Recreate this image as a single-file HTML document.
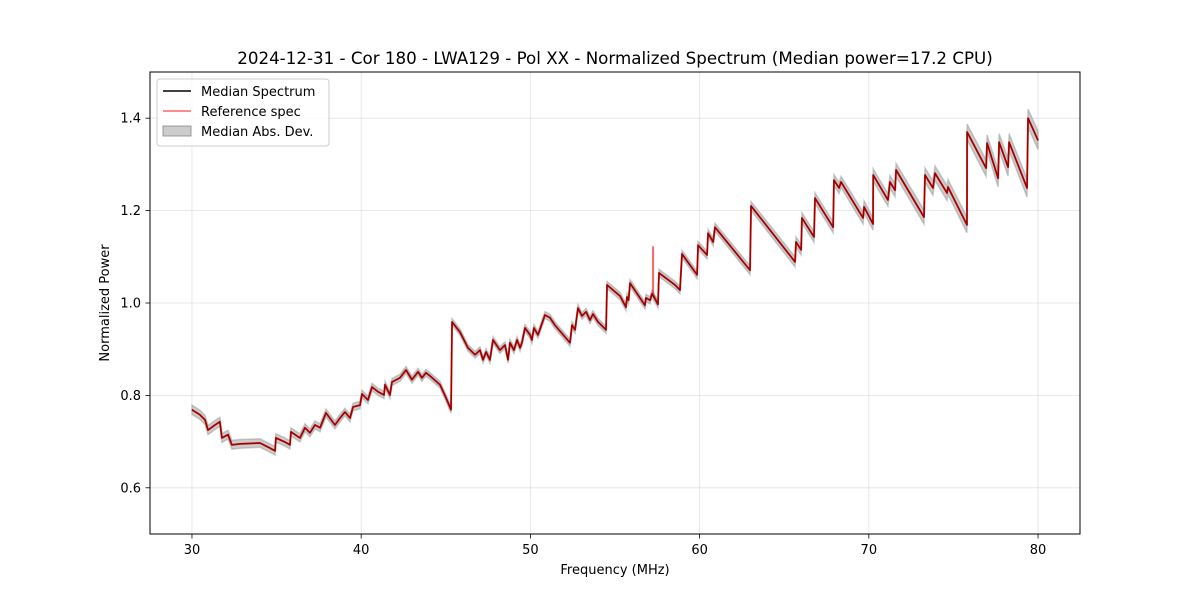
<!DOCTYPE html>
<html><head><meta charset="utf-8"><style>
body{margin:0;background:#fff}
svg text{font-family:"DejaVu Sans","Liberation Sans",sans-serif;fill:#000}
</style></head><body>
<svg id="chart" width="1200" height="600" xmlns="http://www.w3.org/2000/svg">
<rect width="1200" height="600" fill="#fff"/>
<text x="615" y="64" font-size="16.7" text-anchor="middle">2024-12-31 - Cor 180 - LWA129 - Pol XX - Normalized Spectrum (Median power=17.2 CPU)</text>
<g id="grid"></g>
<g id="band"></g>
<g id="lines"></g>
<rect x="150" y="72" width="930" height="462" fill="none" stroke="#000" stroke-width="1"/>
<g id="xticks"></g>
<g id="yticks"></g>
<text x="615" y="574" font-size="13" text-anchor="middle">Frequency (MHz)</text>
<text x="0" y="0" font-size="13" text-anchor="middle" transform="translate(109,303) rotate(-90)">Normalized Power</text>
<g>
<rect x="157" y="79" width="172" height="67" rx="3" fill="#fff" fill-opacity="0.8" stroke="#ccc"/>
<g><line x1="163" y1="91" x2="191" y2="91" stroke="#000" stroke-width="1.5"/><text x="201" y="96" font-size="13">Median Spectrum</text></g>
<g><line x1="163" y1="111" x2="191" y2="111" stroke="#f00" stroke-opacity="0.6" stroke-width="1.5"/><text x="201" y="116" font-size="13">Reference spec</text></g>
<g><rect x="163" y="126" width="28" height="10" fill="#999" fill-opacity="0.5" stroke="#888" stroke-width="0.8"/><text x="201" y="136" font-size="13">Median Abs. Dev.</text></g>
</g>
</svg>
<script>
const medianFreq=[30.0,30.47,30.77,30.95,31.36,31.65,31.77,32.13,32.36,32.84,34.02,34.61,34.91,34.96,35.50,35.79,35.85,36.38,36.68,36.97,37.27,37.57,37.92,38.45,38.75,39.04,39.34,39.52,39.93,40.05,40.40,40.64,40.99,41.35,41.41,41.70,41.82,42.29,42.65,43.00,43.36,43.59,43.83,44.07,44.66,45.01,45.31,45.37,45.84,46.31,46.73,47.02,47.20,47.38,47.61,47.79,48.20,48.50,48.68,48.79,49.03,49.21,49.39,49.50,49.68,49.98,50.09,50.21,50.45,50.86,51.16,51.45,52.34,52.46,52.64,52.81,53.05,53.29,53.52,53.70,54.0,54.47,54.53,55.3,55.65,55.71,55.80,55.89,56.77,56.83,57.07,57.19,57.54,57.60,58.55,58.84,58.96,59.85,59.91,60.44,60.50,60.80,60.91,62.98,63.04,65.64,65.70,66.0,66.05,66.76,66.82,67.89,67.94,68.24,68.36,69.66,69.72,70.25,70.26,71.13,71.25,71.55,71.61,73.26,73.32,73.79,73.91,74.62,74.68,75.80,75.81,76.93,76.99,77.64,77.70,78.23,78.29,79.35,79.41,80.0];
const medianVal=[0.769,0.758,0.747,0.725,0.736,0.743,0.708,0.715,0.693,0.695,0.697,0.686,0.680,0.708,0.699,0.693,0.721,0.708,0.730,0.719,0.736,0.730,0.762,0.736,0.751,0.764,0.751,0.775,0.779,0.803,0.790,0.818,0.808,0.801,0.823,0.801,0.829,0.838,0.855,0.834,0.851,0.838,0.849,0.842,0.823,0.795,0.769,0.959,0.937,0.903,0.888,0.898,0.877,0.894,0.877,0.920,0.898,0.909,0.877,0.914,0.898,0.920,0.903,0.914,0.946,0.931,0.920,0.946,0.931,0.974,0.968,0.952,0.914,0.952,0.942,0.989,0.972,0.981,0.963,0.976,0.959,0.942,1.039,1.015,0.991,1.013,1.006,1.043,0.995,1.011,1.006,1.020,0.997,1.065,1.039,1.028,1.106,1.061,1.125,1.104,1.151,1.132,1.164,1.071,1.210,1.089,1.132,1.115,1.184,1.143,1.227,1.164,1.266,1.249,1.262,1.184,1.208,1.171,1.277,1.223,1.262,1.244,1.288,1.186,1.277,1.249,1.281,1.238,1.251,1.169,1.370,1.292,1.346,1.270,1.348,1.294,1.348,1.249,1.400,1.352];
const refSpikeFreq=[57.25];
const refSpikeVal=[1.121];
const madFreq=[30,45,60,70,80];
const madVal=[0.010,0.007,0.008,0.013,0.020];
const xTicks=[30,40,50,60,70,80];
const yTicks=[0.6,0.8,1.0,1.2,1.4];

const X=f=>150+(f-27.52)/(82.48-27.52)*930;
const Y=v=>534-(v-0.5)/(1.5-0.5)*462;
const NS='http://www.w3.org/2000/svg';
function mk(t,a,p){const e=document.createElementNS(NS,t);for(const k in a)e.setAttribute(k,a[k]);p.appendChild(e);return e;}
function mad(f){for(let i=0;i<madFreq.length-1;i++){if(f<=madFreq[i+1]){const t=(f-madFreq[i])/(madFreq[i+1]-madFreq[i]);return madVal[i]+t*(madVal[i+1]-madVal[i]);}}return madVal[madVal.length-1];}

const grid=document.getElementById('grid'),xt=document.getElementById('xticks'),yt=document.getElementById('yticks');
xTicks.forEach(t=>{
 const g=mk('line',{x1:X(t),x2:X(t),y1:72,y2:534,stroke:'#b0b0b0','stroke-opacity':0.35,'stroke-width':0.8},grid);
 
 const l=mk('line',{x1:X(t),x2:X(t),y1:534,y2:538.5,stroke:'#000','stroke-width':0.8},xt);
 
 const tx=mk('text',{x:X(t),y:554,'font-size':13,'text-anchor':'middle'},xt);tx.textContent=t;
 
});
yTicks.forEach(t=>{
 const g=mk('line',{x1:150,x2:1080,y1:Y(t),y2:Y(t),stroke:'#b0b0b0','stroke-opacity':0.35,'stroke-width':0.8},grid);
 
 const l=mk('line',{x1:145.5,x2:150,y1:Y(t),y2:Y(t),stroke:'#000','stroke-width':0.8},yt);
 
 const tx=mk('text',{x:141,y:Y(t)+4.5,'font-size':13,'text-anchor':'end'},yt);tx.textContent=t.toFixed(1);
 
});
let up=[],dn=[];
medianFreq.forEach((f,i)=>{up.push(X(f)+','+Y(medianVal[i]+mad(f)));dn.unshift(X(f)+','+Y(medianVal[i]-mad(f)));});
const band=mk('polygon',{points:up.concat(dn).join(' '),fill:'#999','fill-opacity':0.5,stroke:'#999','stroke-opacity':0.5,'stroke-width':1.5},document.getElementById('band'));

const lines=document.getElementById('lines');
const med=mk('polyline',{points:medianFreq.map((f,i)=>X(f)+','+Y(medianVal[i])).join(' '),fill:'none',stroke:'#000','stroke-width':1.5,'stroke-linejoin':'round'},lines);

let rf=[],rv=[];
medianFreq.forEach((f,i)=>{refSpikeFreq.forEach((sf,j)=>{if(i>0&&sf>medianFreq[i-1]&&sf<=f){rf.push(sf,sf,sf);rv.push(medianVal[i-1],refSpikeVal[j],medianVal[i-1]);}});rf.push(f);rv.push(medianVal[i]);});
const ref=mk('polyline',{points:rf.map((f,i)=>X(f)+','+Y(rv[i])).join(' '),fill:'none',stroke:'#f00','stroke-opacity':0.6,'stroke-width':2,'stroke-linejoin':'round'},lines);

</script>
</body></html>
